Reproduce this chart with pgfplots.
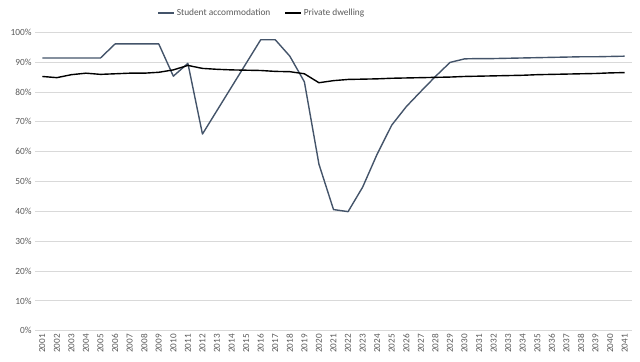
\documentclass[border=0pt]{standalone}
\usepackage{pgfplots}
\pgfplotsset{compat=1.18}
\usepackage{pgfplotstable}
\usepackage{fontspec}
\setmainfont{Carlito}
\definecolor{studentc}{HTML}{44546A}
\definecolor{labc}{HTML}{595959}
\definecolor{gridc}{HTML}{D9D9D9}

\pgfplotstableread{
year stud priv
2001 91.4 85.2
2002 91.4 84.8
2003 91.4 85.8
2004 91.4 86.3
2005 91.4 85.9
2006 96.1 86.1
2007 96.1 86.3
2008 96.1 86.3
2009 96.1 86.6
2010 85.3 87.4
2011 89.6 88.9
2012 65.9 87.9
2013 73.8 87.6
2014 81.7 87.4
2015 89.6 87.3
2016 97.5 87.2
2017 97.5 86.9
2018 92.0 86.8
2019 83.4 86.1
2020 55.8 83.1
2021 40.6 83.8
2022 39.9 84.2
2023 48.1 84.3
2024 59.2 84.4
2025 68.9 84.6
2026 75.1 84.7
2027 80.2 84.8
2028 85.2 84.9
2029 89.9 85.0
2030 91.1 85.2
2031 91.2 85.3
2032 91.2 85.4
2033 91.3 85.5
2034 91.4 85.6
2035 91.5 85.8
2036 91.6 85.9
2037 91.7 86.0
2038 91.8 86.1
2039 91.8 86.2
2040 91.9 86.4
2041 92.0 86.5
}\datatable

\begin{document}
\begin{tikzpicture}[x=1bp,y=1bp]
\path[use as bounding box] (-35,-30.3) rectangle (605,330.7);
\begin{axis}[
  at={(0,0)}, anchor=south west,
  scale only axis,
  width=597bp, height=298.4bp,
  xmin=2000.5, xmax=2041.5,
  ymin=0, ymax=100,
  xtick={2001,...,2041},
  ytick={0,10,...,100},
  /pgf/number format/1000 sep={},
  /pgf/number format/assume math mode=true,
  yticklabel={\pgfmathprintnumber{\tick}\%},
  xticklabel style={rotate=90, anchor=east, font=\fontsize{9.2}{10}\selectfont, text=labc},
  yticklabel style={font=\fontsize{9.4}{10}\selectfont, text=labc},
  ymajorgrids,
  grid style={gridc, line width=0.8bp},
  axis line style={draw=none},
  major tick length=0pt,
  tick style={draw=none},
  legend columns=2,
  legend style={at={(0.38,1)}, anchor=south, yshift=11bp, draw=none, fill=none,
    font=\fontsize{9.4}{10}\selectfont, text=labc,
    /tikz/every even column/.append style={column sep=12bp}},
  legend cell align=left,
  legend image code/.code={\draw[#1] (0bp,0bp) -- (16bp,0bp);},
]
\addplot[studentc, line width=1.4bp, line join=round] table[x=year, y=stud] {\datatable};
\addlegendentry{Student accommodation}
\addplot[black, line width=1.4bp, line join=round] table[x=year, y=priv] {\datatable};
\addlegendentry{Private dwelling}
\end{axis}
\end{tikzpicture}
\end{document}
